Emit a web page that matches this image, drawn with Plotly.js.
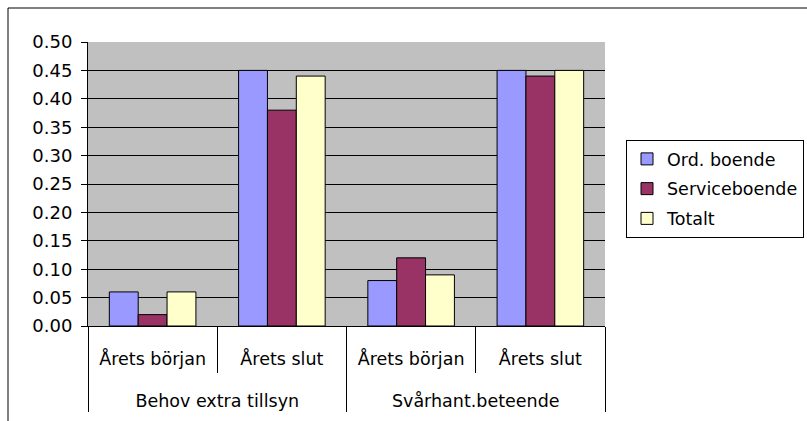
<!DOCTYPE html>
<html><head><meta charset="utf-8">
<script src="https://cdn.plot.ly/plotly-3.0.1.min.js"></script>
<style>body{margin:0;background:#fff;overflow:hidden}#c{width:807px;height:421px}</style>
</head><body><div id="c"></div>
<script>
const groups = ["Behov extra tillsyn","Behov extra tillsyn","Svårhant.beteende","Svårhant.beteende"];
const periods = ["Årets början","Årets slut","Årets början","Årets slut"];
const seriesNames = ["Ord. boende","Serviceboende","Totalt"];
const ordBoende = [0.06, 0.45, 0.08, 0.45];
const serviceboende = [0.02, 0.38, 0.12, 0.44];
const totalt = [0.06, 0.44, 0.09, 0.45];
const colors = ["#9999FF","#993366","#FFFFCC"];
const yTicks = [0,0.05,0.10,0.15,0.20,0.25,0.30,0.35,0.40,0.45,0.50];

const periodLabels = periods.map(p=>"\u00a0<br>"+p+"<br><sup>\u00a0</sup>");
const vals = [ordBoende, serviceboende, totalt];
const traces = vals.map((v,i)=>({
  type:"bar", x:[groups, periodLabels], y:v, name:seriesNames[i], legendgroup:"g"+i,
  marker:{color:colors[i], line:{color:"#000", width:1}}
}));
const W=807,H=421,ml=88,mr=202,mt=42,mb=95;
const pw=W-ml-mr, ph=H-mt-mb;
const layout = {
  width:W, height:H, margin:{l:ml,r:mr,t:mt,b:mb},
  paper_bgcolor:"#fff", plot_bgcolor:"#C0C0C0",
  font:{family:"DejaVu Sans, sans-serif", size:17.5, color:"#000"},
  barmode:"group", bargap:0.33, bargroupgap:0,
  showlegend:true,
  legend:{xref:"container", yref:"container", x:626/W, y:1-140/H, xanchor:"left", yanchor:"top", bgcolor:"#fff",
    bordercolor:"#000", borderwidth:1, font:{size:17.5}, traceorder:"grouped", tracegroupgap:4, itemwidth:30},
  xaxis:{type:"multicategory", showline:true, linecolor:"#000", linewidth:1,
    ticks:"outside", tickson:"boundaries", ticklen:46, tickcolor:"#000",
    showdividers:true, dividercolor:"#000", dividerwidth:1, ticklabelstandoff:-6,
    tickfont:{size:17.5}, showgrid:false, mirror:false, automargin:false},
  yaxis:{range:[0,0.5], tickvals:yTicks, ticktext:yTicks.map(t=>t.toFixed(2)),
    showline:true, linecolor:"#000", ticks:"outside", ticklen:6, tickcolor:"#000", ticklabelstandoff:5,
    showgrid:true, gridcolor:"#000", gridwidth:1, zeroline:false, tickfont:{size:18}, automargin:false},
  shapes:[{type:"rect", xref:"paper", yref:"paper", x0:(8-ml)/pw, x1:(1200-ml)/pw, y0:(H-mb-600)/ph, y1:(H-mb-8)/ph,
    line:{color:"#000", width:1}, fillcolor:"rgba(0,0,0,0)", layer:"below"}]
};
Plotly.newPlot("c", traces, layout, {displayModeBar:false, staticPlot:true});
</script></body></html>
